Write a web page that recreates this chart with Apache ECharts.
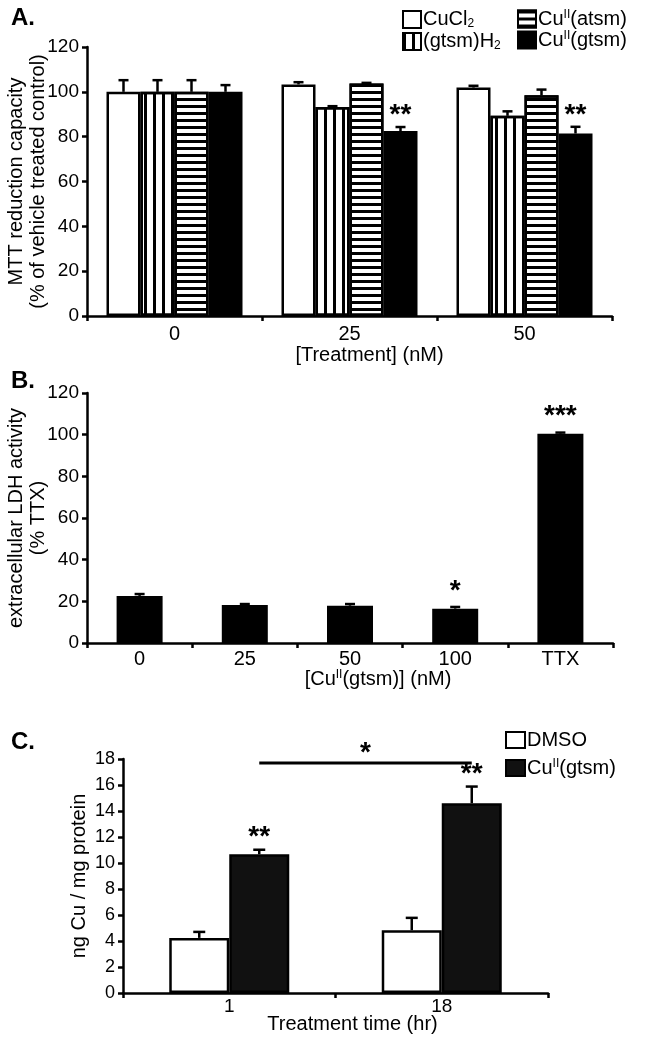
<!DOCTYPE html>
<html>
<head>
<meta charset="utf-8">
<script src="https://cdn.jsdelivr.net/npm/echarts@6/dist/echarts.min.js"></script>
<style>
html,body{margin:0;padding:0;background:#fff;}
#main{width:664px;height:1042px;}
</style>
</head>
<body>
<div id="main"></div>
<script>
// ---------- Panel A data ----------
const catsA = ['0', '25', '50'];
const cuCl2A = [100, 103.3, 101.9];
const cuCl2AErr = [5.2, 1.0, 0.8];
const gtsmH2A = [100, 93.2, 89.3];
const gtsmH2AErr = [5.2, 0.4, 2.0];
const cuAtsmA = [100, 103.7, 98.5];
const cuAtsmAErr = [5.2, 0.3, 2.5];
const cuGtsmA = [100, 82.5, 81.4];
const cuGtsmAErr = [3.0, 1.8, 3.0];
const cuGtsmASig = ['', '**', '**'];
const ticksA = [0, 20, 40, 60, 80, 100, 120];

// ---------- Panel B data ----------
const catsB = ['0', '25', '50', '100', 'TTX'];
const ldhB = [22.6, 18.2, 17.9, 16.5, 100.5];
const ldhBErr = [0.9, 0.5, 0.8, 0.8, 0.5];
const ldhBSig = ['', '', '', '*', '***'];
const ticksB = [0, 20, 40, 60, 80, 100, 120];

// ---------- Panel C data ----------
const catsC = ['1', '18'];
const dmsoC = [4.24, 4.83];
const dmsoCErr = [0.46, 0.95];
const cuGtsmC = [10.67, 14.6];
const cuGtsmCErr = [0.35, 1.28];
const cuGtsmCSig = ['**', '**'];
const bracketC = { from: 0, to: 1, level: 17.7, sig: '*' };
const ticksC = [0, 2, 4, 6, 8, 10, 12, 14, 16, 18];

const FF = "'Liberation Sans', Arial, sans-serif";
const BLACK = '#000';

const rich = {
  sub: { fontSize: 12, fontFamily: FF, color: BLACK, lineHeight: 12, padding: [9, 0, 0, 0] },
  sup: { fontSize: 12, fontFamily: FF, color: BLACK, lineHeight: 12, padding: [0, 0, 8, 0] }
};

function yAxis(gi, ticks, name, gap, fs) {
  return {
    type: 'value', gridIndex: gi, min: ticks[0], max: ticks[ticks.length - 1],
    interval: ticks[1] - ticks[0],
    axisLine: { show: true, lineStyle: { color: BLACK, width: 2.5 } },
    axisTick: { show: true, length: 5, lineStyle: { color: BLACK, width: 2.5 } },
    splitLine: { show: false },
    axisLabel: { color: BLACK, fontSize: fs, fontFamily: FF, margin: 8 },
    name: name, nameLocation: 'middle', nameGap: gap, nameMoveOverlap: false,
    nameTextStyle: { color: BLACK, fontSize: 20, fontFamily: FF, lineHeight: 22, rich: rich }
  };
}
function xAxis(gi, cats, name, gap, pad, fs, margin) {
  return {
    type: 'category', gridIndex: gi, data: cats,
    axisLine: { show: true, lineStyle: { color: BLACK, width: 2.5 } },
    axisTick: { show: true, length: 5, lineStyle: { color: BLACK, width: 2.5 } },
    axisLabel: { color: BLACK, fontSize: fs, fontFamily: FF, margin: margin },
    name: name, nameLocation: 'middle', nameGap: gap, nameMoveOverlap: false,
    nameTextStyle: { color: BLACK, fontSize: 20, fontFamily: FF, padding: [0, 0, 0, pad], rich: rich }
  };
}

function errSeries(gi, vals, errs, sigs, offset, capHalf, sigGap) {
  return {
    type: 'custom', xAxisIndex: gi, yAxisIndex: gi, z: 10, silent: true,
    data: vals.map((v, i) => [i, v, errs[i]]),
    encode: { x: 0, y: 1 },
    renderItem: function (params, api) {
      const c = api.value(0), v = api.value(1), e = api.value(2);
      const p0 = api.coord([c, v]);
      const p1 = api.coord([c, v + e]);
      const x = p0[0] + offset;
      const children = [
        { type: 'line', shape: { x1: x, y1: p0[1], x2: x, y2: p1[1] }, style: { stroke: BLACK, lineWidth: 2.5 } },
        { type: 'line', shape: { x1: x - capHalf, y1: p1[1], x2: x + capHalf, y2: p1[1] }, style: { stroke: BLACK, lineWidth: 2.5 } }
      ];
      const s = sigs ? sigs[params.dataIndex] : '';
      if (s) {
        children.push({ type: 'text', style: { text: s, x: x, y: p1[1] - sigGap, align: 'center', verticalAlign: 'middle', font: 'bold 28px ' + FF, fill: BLACK } });
      }
      return { type: 'group', children: children };
    }
  };
}

function barSeries(gi, name, vals, color, decal, bw) {
  const s = {
    type: 'bar', name: name, xAxisIndex: gi, yAxisIndex: gi, data: vals,
    barWidth: bw, barGap: '0%', silent: true,
    itemStyle: { color: color, borderColor: BLACK, borderWidth: 2.5 }
  };
  if (decal) s.itemStyle.decal = decal;
  return s;
}

const decalV = { symbol: 'rect', symbolSize: 1, color: BLACK, dashArrayX: [3, 6], dashArrayY: [1, 0] };
const decalH = { symbol: 'rect', symbolSize: 1, color: BLACK, dashArrayX: [1, 0], dashArrayY: [3, 4] };

const bwA = 34, bwB = 46, bwC = 60;

function legendFmt(n) {
  if (n === 'CuCl2') return 'CuCl{sub|2}';
  if (n === '(gtsm)H2') return '(gtsm)H{sub|2}';
  if (n === 'CuII(atsm)') return 'Cu{sup|II}(atsm)';
  if (n === 'CuII(gtsm)') return 'Cu{sup|II}(gtsm)';
  if (n === 'CuII(gtsm) ') return 'Cu{sup|II}(gtsm)';
  return n;
}
const legendBase = {
  orient: 'vertical', itemWidth: 18, itemHeight: 17, itemGap: 1, icon: 'rect',
  formatter: legendFmt, selectedMode: false, padding: 0,
  textStyle: { color: BLACK, fontSize: 20, fontFamily: FF, lineHeight: 19, padding: [0, 0, 0, -3], rich: rich }
};

const chart = echarts.init(document.getElementById('main'), null, { renderer: 'canvas' });
chart.setOption({
  backgroundColor: '#fff',
  animation: false,
  title: [
    { text: 'A.', left: 6, top: 1, textStyle: { fontSize: 24, fontWeight: 'bold', color: BLACK, fontFamily: FF } },
    { text: 'B.', left: 6, top: 364, textStyle: { fontSize: 24, fontWeight: 'bold', color: BLACK, fontFamily: FF } },
    { text: 'C.', left: 6, top: 725, textStyle: { fontSize: 24, fontWeight: 'bold', color: BLACK, fontFamily: FF } }
  ],
  legend: [
    Object.assign({}, legendBase, { left: 402, top: 9, data: ['CuCl2', '(gtsm)H2'] }),
    Object.assign({}, legendBase, { left: 517, top: 9, data: ['CuII(atsm)', 'CuII(gtsm)'] }),
    Object.assign({}, legendBase, { left: 505, top: 730, itemWidth: 19, itemHeight: 16, itemGap: 8, data: ['DMSO', 'CuII(gtsm) '] })
  ],
  grid: [
    { left: 87, top: 47, width: 525, height: 269, outerBoundsMode: 'none' },
    { left: 87, top: 393, width: 526, height: 250, outerBoundsMode: 'none' },
    { left: 123, top: 759, width: 425, height: 234, outerBoundsMode: 'none' }
  ],
  xAxis: [
    xAxis(0, catsA, '[Treatment] (nM)', 29, 40, 20, 8),
    xAxis(1, catsB, '[Cu{sup|II}(gtsm)] (nM)', 26, 56, 20, 6),
    xAxis(2, catsC, 'Treatment time (hr)', 21, 34, 19, 4)
  ],
  yAxis: [
    yAxis(0, ticksA, 'MTT reduction capacity\n(% of vehicle treated control)', 38, 19),
    yAxis(1, ticksB, 'extracellular LDH activity\n(% TTX)', 38, 19),
    yAxis(2, ticksC, 'ng Cu / mg protein', 33, 18)
  ],
  series: [
    barSeries(0, 'CuCl2', cuCl2A, '#fff', null, bwA),
    barSeries(0, '(gtsm)H2', gtsmH2A, '#fff', decalV, bwA),
    barSeries(0, 'CuII(atsm)', cuAtsmA, '#fff', decalH, bwA),
    barSeries(0, 'CuII(gtsm)', cuGtsmA, '#000', null, bwA),
    errSeries(0, cuCl2A, cuCl2AErr, null, -1.5 * bwA, 5, 0),
    errSeries(0, gtsmH2A, gtsmH2AErr, null, -0.5 * bwA, 5, 0),
    errSeries(0, cuAtsmA, cuAtsmAErr, null, 0.5 * bwA, 5, 0),
    errSeries(0, cuGtsmA, cuGtsmAErr, cuGtsmASig, 1.5 * bwA, 5, 12),

    barSeries(1, 'LDH', ldhB, '#000', null, bwB),
    errSeries(1, ldhB, ldhBErr, ldhBSig, 0, 5, 16),

    barSeries(2, 'DMSO', dmsoC, '#fff', null, bwC),
    barSeries(2, 'CuII(gtsm) ', cuGtsmC, '#111', null, bwC),
    errSeries(2, dmsoC, dmsoCErr, null, -0.5 * bwC, 6, 0),
    errSeries(2, cuGtsmC, cuGtsmCErr, cuGtsmCSig, 0.5 * bwC, 6, 12),
    {
      type: 'custom', xAxisIndex: 2, yAxisIndex: 2, z: 10, silent: true,
      data: [[bracketC.from, bracketC.level, bracketC.to]],
      encode: { x: 0, y: 1 },
      renderItem: function (params, api) {
        const a = api.coord([api.value(0), api.value(1)]);
        const b = api.coord([api.value(2), api.value(1)]);
        const xa = a[0] + 0.5 * bwC, xb = b[0] + 0.5 * bwC;
        return { type: 'group', children: [
          { type: 'line', shape: { x1: xa, y1: a[1], x2: xb, y2: a[1] }, style: { stroke: BLACK, lineWidth: 3 } },
          { type: 'text', style: { text: bracketC.sig, x: (xa + xb) / 2, y: a[1] - 10, align: 'center', verticalAlign: 'middle', font: 'bold 28px ' + FF, fill: BLACK } }
        ] };
      }
    }
  ]
});
</script>
</body>
</html>
